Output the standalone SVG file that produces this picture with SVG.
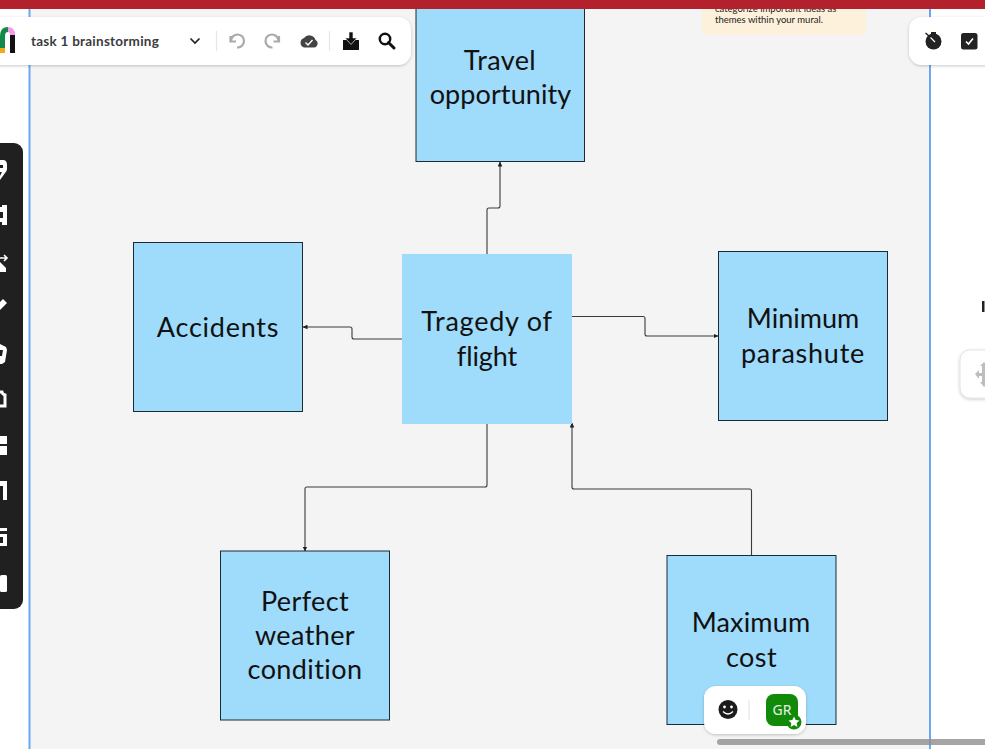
<svg xmlns="http://www.w3.org/2000/svg" width="985" height="749" viewBox="0 0 985 749">
<defs>
<marker id="ah" markerWidth="5" markerHeight="5" refX="4.5" refY="2.5" orient="auto" markerUnits="userSpaceOnUse"><path d="M0,0.2L5,2.5L0,4.8Z" fill="#222"/></marker>
<filter id="sh" x="-10%" y="-20%" width="120%" height="150%"><feDropShadow dx="0" dy="1" stdDeviation="1.5" flood-color="#000" flood-opacity="0.22"/></filter>
</defs>
<style>
.note{fill:#9fdbfa;stroke:#1c2a33;stroke-width:1}
.lbl{font-family:"Lato","Open Sans",sans-serif;font-size:27px;fill:#111;text-anchor:middle;letter-spacing:.4px}
.con{fill:none;stroke:#3a3a3a;stroke-width:1.1;marker-end:url(#ah)}
.panel{fill:#fff;filter:url(#sh)}
.ic{fill:#fff}
.sep{stroke:#e6e6e6;stroke-width:1.2}
</style>
<rect width="985" height="749" fill="#fff"/>
<rect x="30" y="0" width="900" height="749" fill="#f4f4f4"/>
<path d="M29.500 0V749M930 0V749" stroke="#6aa8f7" stroke-width="2" fill="none"/>

<g id="tip">
<rect x="702" y="0" width="164" height="35" rx="4" fill="#fdf1dc"/>
<text x="715" y="12" font-family="Lato,sans-serif" font-size="9.500" fill="#222">categorize important ideas as</text>
<text x="715" y="23" font-family="Lato,sans-serif" font-size="9.500" fill="#222">themes within your mural.</text>
</g>
<rect id="topbar" x="0" y="0" width="985" height="9" fill="#b3212d"/>

<g id="connectors">
<path class="con" d="M487,254V210Q487,208 489,208H498Q500,208 500,206V162"/>
<path class="con" d="M402,339H354Q352,339 352,337V329Q352,327 350,327H303"/>
<path class="con" d="M572,316.500H643Q645,316.500 645,318.500V334Q645,336 647,336H718"/>
<path class="con" d="M487,424V485Q487,487 485,487H307Q305,487 305,489V551"/>
<path class="con" d="M751.500,555V491Q751.500,489 749.500,489H574Q572,489 572,487V423"/>
</g>

<g id="node-travel"><rect class="note" x="416" y="0" width="168.500" height="161.500"/><text class="lbl" x="500" y="70">Travel</text><text class="lbl" x="500.500" y="104" style="letter-spacing:.1px">opportunity</text></g>
<rect x="415" y="0" width="171" height="9" fill="#b3212d"/>
<g id="node-accidents"><rect class="note" x="133.500" y="242.500" width="169" height="169"/><text class="lbl" x="218" y="337" style="letter-spacing:.75px">Accidents</text></g>
<g id="node-tragedy"><rect x="402" y="254" width="170" height="170" fill="#9fdbfa"/><text class="lbl" x="487" y="331" style="letter-spacing:.75px">Tragedy of</text><text class="lbl" x="487" y="366" style="letter-spacing:-.1px">flight</text></g>
<g id="node-minimum"><rect class="note" x="718.500" y="251.500" width="169" height="169"/><text class="lbl" x="803" y="328" style="letter-spacing:0">Minimum</text><text class="lbl" x="803" y="363" style="letter-spacing:.75px">parashute</text></g>
<g id="node-weather"><rect class="note" x="220.500" y="551" width="169" height="169"/><text class="lbl" x="305" y="611">Perfect</text><text class="lbl" x="305" y="645">weather</text><text class="lbl" x="305" y="679">condition</text></g>
<g id="node-cost"><rect class="note" x="667" y="555.500" width="169" height="169"/><text class="lbl" x="751" y="632" style="letter-spacing:.15px">Maximum</text><text class="lbl" x="751.500" y="667">cost</text></g>

<g id="toolbar">
<rect class="panel" x="-20" y="17" width="431" height="48" rx="13"/>
<path d="M2.500,48V36Q2.500,29.500 8,29.500" fill="none" stroke="#0f8a4a" stroke-width="5"/>
<rect x="0" y="48" width="5" height="5" fill="#f3a81c"/>
<path d="M8,29.500Q12.500,29.500 12.500,35" fill="none" stroke="#f49ae8" stroke-width="5"/>
<rect x="10" y="35" width="5" height="18" fill="#111"/>
<text x="31" y="46" font-family="Lato,sans-serif" font-weight="700" font-size="13.500" fill="#3c3c3c" letter-spacing=".25">task 1 brainstorming</text>
<path d="M190.500,38.500L195,43L199.500,38.500" fill="none" stroke="#222" stroke-width="1.700"/>
<path class="sep" d="M216.500,31V51M329.500,31V51"/>
<path d="M230.500,36V41.500H236M231,41A6.500,6.500 0 1 1 237,47.500" fill="none" stroke="#aaa" stroke-width="2.200"/>
<path d="M279,36V41.500H273.500M278.500,41A6.500,6.500 0 1 0 272.500,47.500" fill="none" stroke="#aaa" stroke-width="2.200"/>
<path d="M304,47.500H314A4,4 0 0 0 315.500,40A6.500,6.500 0 0 0 304,38A5,5 0 0 0 304,47.500Z" fill="#444"/>
<path d="M305.500,42.500L308,45L312.500,40" fill="none" stroke="#fff" stroke-width="1.400"/>
<path d="M343,40H347L351,44L355,40H359V50H343Z" fill="#111"/>
<path d="M349,32H353V38H357L351,44.500L345,38H349Z" fill="#111" stroke="#fff" stroke-width=".6"/>
<circle cx="385" cy="39" r="5.200" fill="none" stroke="#111" stroke-width="2.500"/>
<path d="M388.500,42.500L394,48" stroke="#111" stroke-width="3" stroke-linecap="round"/>
</g>

<g id="timer-bar">
<rect class="panel" x="909" y="17" width="100" height="48" rx="13"/>
<circle cx="933.500" cy="41.500" r="8" fill="#222"/>
<rect x="931" y="32" width="5" height="2" fill="#222"/>
<path d="M929,36L925.500,33" stroke="#222" stroke-width="1.500"/>
<path d="M930.500,37.500L935,42" stroke="#fff" stroke-width="1.200"/>
<rect x="961" y="33" width="16.500" height="16.500" rx="2.500" fill="#222"/>
<path d="M966,41.500L968.500,44L973,38.500" fill="none" stroke="#fff" stroke-width="1.600"/>
</g>

<g id="sidebar">
<rect x="-20" y="143" width="43" height="466" rx="9" fill="#202020"/>
<path class="ic" d="M0,160H3Q7,160 7,165V169Q7,171 5,173L0,180V176L2,172H0V168H3V165H0Z"/>
<path class="ic" d="M0,207H2V205H7V225H2V222H0V218H3V212H0Z"/>
<path class="ic" d="M0,262L6,268V272H0Z"/>
<path d="M0,258H7M4,255L7,258L4,261" fill="none" stroke="#fff" stroke-width="1.600"/>
<path class="ic" d="M0,302L3,299L7,303L0,310Z"/>
<path class="ic" d="M0,344L6,347L7,350L5,362L2,364H0V356H2L3,350H0Z"/>
<path d="M0,392H2A4,4 0 0 0 5,395V406H0" fill="none" stroke="#fff" stroke-width="3"/>
<rect class="ic" x="0" y="436" width="7" height="8"/><rect class="ic" x="0" y="446" width="7" height="9"/>
<path class="ic" d="M0,481H7V500H3V486H0Z"/>
<path class="ic" d="M0,528H7V531H0ZM0,534H7V546H0V543H3V537H0Z"/>
<rect class="ic" x="0" y="575" width="7" height="17" rx="1.500"/>
</g>

<g id="right-edge">
<rect x="982" y="301" width="2.500" height="11" fill="#222"/>
<rect x="960" y="350" width="40" height="48" rx="10" fill="#fff" stroke="#e4e4e4" filter="url(#sh)"/>
<path d="M975,374L979,370V373H982V366H980L984,362L985,363V386L984,387L980,382H982V376H979V379Z" fill="#bdbdbd"/>
</g>

<g id="reactions">
<rect class="panel" x="704" y="686" width="102" height="48" rx="12"/>
<circle cx="728" cy="709.500" r="9.500" fill="#1c1c1c"/>
<circle cx="724.500" cy="707" r="1.400" fill="#fff"/><circle cx="731.500" cy="707" r="1.400" fill="#fff"/>
<path d="M723,711.500Q728,716.500 733,711.500" fill="none" stroke="#fff" stroke-width="1.300"/>
<path class="sep" d="M749,700V720"/>
<rect x="766" y="694" width="32" height="32" rx="8" fill="#128a09"/>
<text x="782" y="715" font-family="Noto Sans,sans-serif" font-size="14" fill="#e9f3e7" text-anchor="middle">GR</text>
<circle cx="794" cy="722" r="7.500" fill="#128a09"/>
<path d="M794,716.500L795.700,720L799.500,720.500L796.700,723.100L797.400,726.900L794,725L790.600,726.900L791.300,723.100L788.500,720.500L792.300,720Z" fill="#fff"/>
</g>
<rect id="scrollbar" x="717" y="739" width="280" height="6" rx="3" fill="#8f8f8f" fill-opacity=".8"/>
</svg>
